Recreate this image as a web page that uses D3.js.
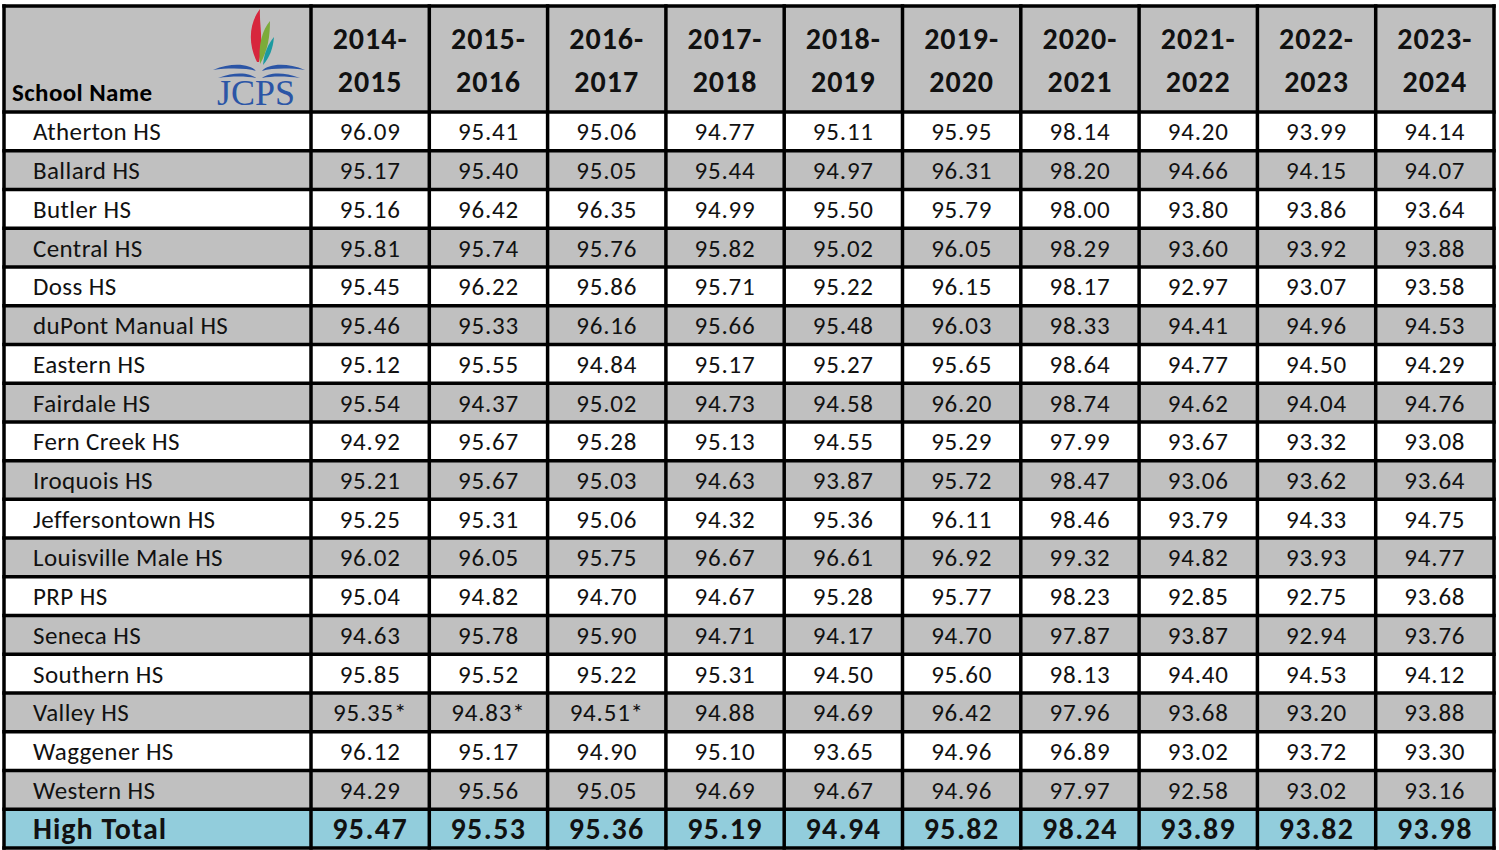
<!DOCTYPE html>
<html><head><meta charset="utf-8">
<script src="https://cdn.jsdelivr.net/npm/d3@7"></script>
<style>html,body{margin:0;padding:0;background:#fff;}svg{display:block;}</style>
</head><body><svg id="c" width="1499" height="850"></svg>
<script>
const years = ["2014-2015","2015-2016","2016-2017","2017-2018","2018-2019","2019-2020","2020-2021","2021-2022","2022-2023","2023-2024"];
const schools = ["Atherton HS","Ballard HS","Butler HS","Central HS","Doss HS","duPont Manual HS","Eastern HS","Fairdale HS","Fern Creek HS","Iroquois HS","Jeffersontown HS","Louisville Male HS","PRP HS","Seneca HS","Southern HS","Valley HS","Waggener HS","Western HS"];
const values = [
["96.09","95.41","95.06","94.77","95.11","95.95","98.14","94.20","93.99","94.14"],
["95.17","95.40","95.05","95.44","94.97","96.31","98.20","94.66","94.15","94.07"],
["95.16","96.42","96.35","94.99","95.50","95.79","98.00","93.80","93.86","93.64"],
["95.81","95.74","95.76","95.82","95.02","96.05","98.29","93.60","93.92","93.88"],
["95.45","96.22","95.86","95.71","95.22","96.15","98.17","92.97","93.07","93.58"],
["95.46","95.33","96.16","95.66","95.48","96.03","98.33","94.41","94.96","94.53"],
["95.12","95.55","94.84","95.17","95.27","95.65","98.64","94.77","94.50","94.29"],
["95.54","94.37","95.02","94.73","94.58","96.20","98.74","94.62","94.04","94.76"],
["94.92","95.67","95.28","95.13","94.55","95.29","97.99","93.67","93.32","93.08"],
["95.21","95.67","95.03","94.63","93.87","95.72","98.47","93.06","93.62","93.64"],
["95.25","95.31","95.06","94.32","95.36","96.11","98.46","93.79","94.33","94.75"],
["96.02","96.05","95.75","96.67","96.61","96.92","99.32","94.82","93.93","94.77"],
["95.04","94.82","94.70","94.67","95.28","95.77","98.23","92.85","92.75","93.68"],
["94.63","95.78","95.90","94.71","94.17","94.70","97.87","93.87","92.94","93.76"],
["95.85","95.52","95.22","95.31","94.50","95.60","98.13","94.40","94.53","94.12"],
["95.35*","94.83*","94.51*","94.88","94.69","96.42","97.96","93.68","93.20","93.88"],
["96.12","95.17","94.90","95.10","93.65","94.96","96.89","93.02","93.72","93.30"],
["94.29","95.56","95.05","94.69","94.67","94.96","97.97","92.58","93.02","93.16"]
];
const totalLabel = "High Total";
const totals = ["95.47","95.53","95.36","95.19","94.94","95.82","98.24","93.89","93.82","93.98"];
const headerLabel = "School Name";

const svg = d3.select("#c");
const FONT = "Carlito, Calibri, Lato, 'Open Sans', sans-serif";
const L = 4, nameRight = 311, R = 1494;
const T = 6, headBottom = 112, B = 848;
const rowKeys = schools.concat([totalLabel]);
const x = d3.scaleBand().domain(years).range([nameRight, R]);
const y = d3.scaleBand().domain(rowKeys).range([headBottom, B]);

// backgrounds
svg.append("rect").attr("x",L).attr("y",T).attr("width",R-L).attr("height",headBottom-T).attr("fill","#c0c0c0");
svg.selectAll("rect.row").data(rowKeys).enter().append("rect").attr("class","row")
  .attr("x",L).attr("y",d=>y(d)).attr("width",R-L).attr("height",y.bandwidth())
  .attr("fill",(d,i)=> d===totalLabel ? "#92cddc" : (i%2===0 ? "#ffffff" : "#c0c0c0"));

// text
svg.append("text").attr("x",12).attr("y",101).attr("font-family",FONT).attr("font-weight","bold")
  .attr("font-size",25).attr("letter-spacing",0.4).attr("fill","#000").text(headerLabel);
const hy = svg.selectAll("text.year").data(years).enter().append("text").attr("class","year")
  .attr("text-anchor","middle").attr("font-family",FONT).attr("font-weight","bold").attr("font-size",30)
  .attr("letter-spacing",1).attr("fill","#111");
hy.append("tspan").attr("x",d=>x(d)+x.bandwidth()/2).attr("y",49).text(d=>d.split("-")[0]+"-");
hy.append("tspan").attr("x",d=>x(d)+x.bandwidth()/2).attr("y",92).text(d=>d.split("-")[1]);

svg.selectAll("text.name").data(schools).enter().append("text").attr("class","name")
  .attr("x",33).attr("y",d=>y(d)+y.bandwidth()/2+9).attr("font-family",FONT).attr("font-size",25)
  .attr("letter-spacing",0.4).attr("fill","#111").text(d=>d);

schools.forEach((s,i)=>{
  svg.selectAll("text.v"+i).data(values[i]).enter().append("text")
    .attr("x",(d,j)=>x(years[j])+x.bandwidth()/2).attr("y",y(s)+y.bandwidth()/2+9)
    .attr("text-anchor","middle").attr("font-family",FONT).attr("font-size",25).attr("letter-spacing",0.8)
    .attr("fill","#111").text(d=>d);
});
svg.append("text").attr("x",33).attr("y",y(totalLabel)+y.bandwidth()/2+10).attr("font-family",FONT)
  .attr("font-weight","bold").attr("font-size",30).attr("letter-spacing",1).attr("fill","#111").text(totalLabel);
svg.selectAll("text.tot").data(totals).enter().append("text")
  .attr("x",(d,j)=>x(years[j])+x.bandwidth()/2).attr("y",y(totalLabel)+y.bandwidth()/2+10)
  .attr("text-anchor","middle").attr("font-family",FONT).attr("font-weight","bold").attr("font-size",30)
  .attr("letter-spacing",1.4).attr("fill","#111").text(d=>d);

// grid lines
const g = svg.append("g").attr("stroke","#000").attr("stroke-width",3.5);
const hLines = [T, headBottom].concat(rowKeys.slice(1).map(d=>y(d))).concat([B]);
g.selectAll("line.h").data(hLines).enter().append("line")
  .attr("x1",L-1.75).attr("x2",R+1.75).attr("y1",d=>d).attr("y2",d=>d);
const vLines = [L, nameRight].concat(years.slice(1).map(d=>x(d))).concat([R]);
g.selectAll("line.v").data(vLines).enter().append("line")
  .attr("y1",T-1.75).attr("y2",B+1.75).attr("x1",d=>d).attr("x2",d=>d);

// logo
const logo = svg.append("g").attr("transform","translate(258,0)");
logo.append("path").attr("d","M-1,62 C-11,42 -8,22 2,9 C1,24 6,40 1,62 Z").attr("fill","#d7263d");
logo.append("path").attr("d","M2,64 C0,46 4,30 12,21 C12,36 10,50 2,64 Z").attr("fill","#7cab3a");
logo.append("path").attr("d","M5,65 C6,53 10,44 16,37 C15,48 12,57 5,65 Z").attr("fill","#1b9aa0");
logo.append("path").attr("d","M-45,70 C-26,62 -8,64 -2,71 C-12,68 -30,68 -45,70 Z").attr("fill","#2b55a6");
logo.append("path").attr("d","M47,70 C28,62 10,64 4,71 C14,68 32,68 47,70 Z").attr("fill","#2b55a6");
logo.append("path").attr("d","M-40,78 C-22,71 -8,73 -2,78 C-12,76 -26,76 -40,78 Z").attr("fill","#2b55a6");
logo.append("path").attr("d","M42,78 C24,71 10,73 4,78 C14,76 28,76 42,78 Z").attr("fill","#2b55a6");
logo.append("text").attr("x",-2).attr("y",105).attr("text-anchor","middle").attr("font-family","'Liberation Serif', serif")
  .attr("font-size",35).attr("fill","#2b55a6").attr("textLength",78).attr("lengthAdjust","spacingAndGlyphs").text("JCPS");
</script></body></html>
